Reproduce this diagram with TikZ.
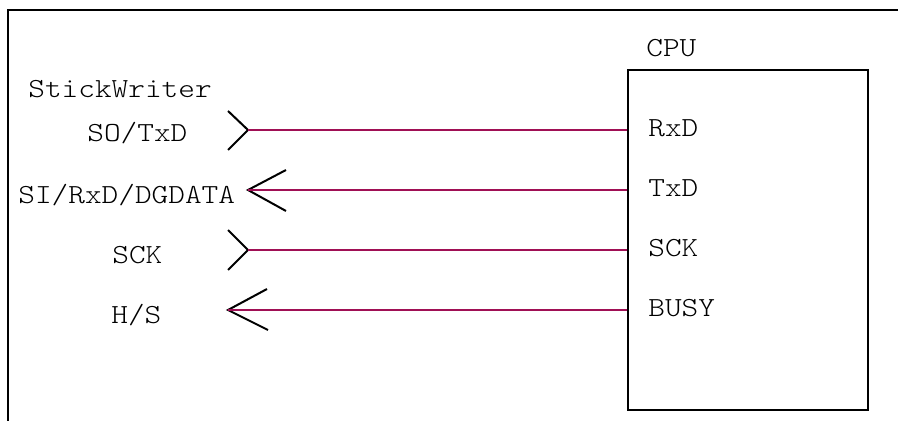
\documentclass[tikz,border=0pt]{standalone}
\usepackage{fontspec}
\setmonofont[FakeStretch=1.15]{lmmonolt10-regular.otf}
\definecolor{wire}{RGB}{160,15,85}
\begin{document}
\begin{tikzpicture}[x=0.5pt,y=-0.5pt,
  lbl/.style={inner sep=0pt,anchor=base west,font=\ttfamily\fontsize{13.8}{16}\selectfont},
  frame/.style={line width=1pt,black},
  wirestyle/.style={line width=1.2pt,wire},
  head/.style={line width=1pt,black}]
\useasboundingbox (0,0) rectangle (898,421);
% open frame
\coordinate (ftl) at (8,10);
\coordinate (ftr) at (898,10);
\coordinate (fbl) at (8,421);
\draw[frame] (fbl) -- (ftl) -- (ftr);
% CPU box
\node[draw,line width=1pt,minimum width=120pt,minimum height=170pt,inner sep=0pt] (cpu) at (748,240) {};
\node[lbl] (cpulbl) at (646,57) {CPU};
\node[lbl] (prxd) at (648,137) {RxD};
\node[lbl] (ptxd) at (648,197) {TxD};
\node[lbl] (psck) at (648,257) {SCK};
\node[lbl] (pbusy) at (648,317) {BUSY};
% StickWriter labels
\node[lbl] (sw) at (28,98) {StickWriter};
\node[lbl] (sotxd) at (87,142) {SO/TxD};
\node[lbl] (sirxd) at (18,204) {SI/RxD/DGDATA};
\node[lbl] (sck) at (112,264) {SCK};
\node[lbl] (hs) at (111,324) {H/S};
% heads
\coordinate (t1) at (248,130);
\coordinate (t2) at (248,190);
\coordinate (t3) at (248,250);
\coordinate (t4) at (228,310);
\draw[head] (228,111) -- (t1) -- (228,150);
\draw[head] (286,170) -- (t2) -- (286,211);
\draw[head] (228,230) -- (t3) -- (228,270);
\draw[head] (267,289) -- (t4) -- (268,330);
% wires
\draw[wirestyle] (t1) -- (cpu.west |- t1);
\draw[wirestyle] (t2) -- (cpu.west |- t2);
\draw[wirestyle] (t3) -- (cpu.west |- t3);
\draw[wirestyle] (t4) -- (cpu.west |- t4);
\end{tikzpicture}
\end{document}
